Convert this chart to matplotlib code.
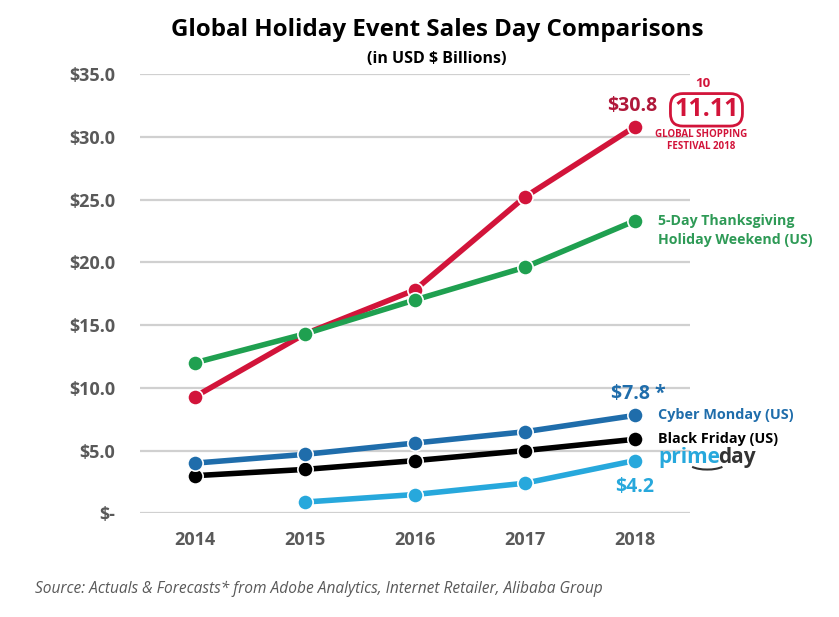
import matplotlib.pyplot as plt
from matplotlib.patches import Arc

years = [2014, 2015, 2016, 2017, 2018]
singles_day = [9.3, 14.3, 17.8, 25.2, 30.8]
thanksgiving = [12.0, 14.3, 17.0, 19.6, 23.3]
cyber_monday = [4.0, 4.7, 5.6, 6.5, 7.8]
black_friday = [3.0, 3.5, 4.2, 5.0, 5.9]
prime_years = [2015, 2016, 2017, 2018]
prime_day = [0.9, 1.5, 2.4, 4.2]
y_ticks = [0, 5, 10, 15, 20, 25, 30, 35]
y_labels = ["$-", "$5.0", "$10.0", "$15.0", "$20.0", "$25.0", "$30.0", "$35.0"]

plt.rcParams['font.family'] = ['Open Sans', 'DejaVu Sans']

RED = "#D2143A"
GREEN = "#1FA050"
CYBER = "#1F6DAB"
PRIME = "#27A8DC"
GREY = "#595959"

fig = plt.figure(figsize=(8.39, 6.17), dpi=100)
ax = fig.add_axes([0.167, 0.168, 0.655, 0.712])

series = [
    (years, singles_day, RED),
    (years, thanksgiving, GREEN),
    (years, black_friday, "black"),
    (years, cyber_monday, CYBER),
    (prime_years, prime_day, PRIME),
]
for xs, ys, c in series:
    ax.plot(xs, ys, color=c, lw=4, marker='o', markersize=11,
            markeredgecolor='white', markeredgewidth=1.2, solid_capstyle='round', zorder=3)

ax.set_xlim(2013.5, 2018.5)
ax.set_ylim(0, 35)
ax.set_yticks(y_ticks)
ax.set_yticklabels(y_labels)
ax.set_xticks(years)
ax.grid(axis='y', color='#d0d0d0', lw=1.6, zorder=0)
for s in ax.spines.values():
    s.set_visible(False)
ax.tick_params(length=0, labelsize=13, labelcolor=GREY, pad=18)
ax.tick_params(axis='x', pad=13)
for lab in ax.get_xticklabels() + ax.get_yticklabels():
    lab.set_fontweight('bold')

# value annotations
ax.annotate("$30.8", (2018, singles_day[-1]), xytext=(-2, 8), textcoords='offset points',
            ha='center', va='bottom', color="#B0183A", fontsize=14, fontweight='bold')
ax.annotate("$7.8 *", (2018, cyber_monday[-1]), xytext=(-17, 8), textcoords='offset points',
            ha='left', va='bottom', color=CYBER, fontsize=14, fontweight='bold')
ax.annotate("$4.2", (2018, prime_day[-1]), xytext=(0, -12), textcoords='offset points',
            ha='center', va='top', color=PRIME, fontsize=14, fontweight='bold')

# series labels
ax.annotate("5-Day Thanksgiving\nHoliday Weekend (US)", (2018, thanksgiving[-1]), xytext=(17, -7),
            textcoords='offset points', ha='left', va='center', color="#2E9A56",
            fontsize=10.2, fontweight='bold', linespacing=1.5)
ax.annotate("Cyber Monday (US)", (2018, cyber_monday[-1]), xytext=(17, 0),
            textcoords='offset points', ha='left', va='center', color=CYBER,
            fontsize=10.4, fontweight='bold')
ax.annotate("Black Friday (US)", (2018, black_friday[-1]), xytext=(17, 0),
            textcoords='offset points', ha='left', va='center', color='black',
            fontsize=10.4, fontweight='bold')
ax.annotate("prime", (2018, prime_day[-1]), xytext=(17, 2),
            textcoords='offset points', ha='left', va='center', color=PRIME,
            fontsize=15, fontweight='bold')
ax.annotate("day", (2018, prime_day[-1]), xytext=(60, 2),
            textcoords='offset points', ha='left', va='center', color="#333333",
            fontsize=15, fontweight='bold')
fig.patches.append(Arc((0.843, 0.250), 0.045, 0.022, theta1=200, theta2=340,
                       transform=fig.transFigure, color="#333333", lw=1.5))

# 11.11 logo as text
fig.text(0.842, 0.822, "11.11", color=RED, fontsize=18, fontweight='bold', ha='center', va='center',
         bbox=dict(boxstyle='round,pad=0.15,rounding_size=0.5', fc='none', ec=RED, lw=2))
fig.text(0.838, 0.864, "10", color=RED, fontsize=9.5, fontweight='bold', ha='center', va='center',
         bbox=dict(boxstyle='square,pad=0.05', fc='white', ec='none'))
fig.text(0.836, 0.772, "GLOBAL SHOPPING\nFESTIVAL 2018", color=RED, fontsize=7, fontweight='bold',
         ha='center', va='center', linespacing=1.1)

fig.text(0.521, 0.952, "Global Holiday Event Sales Day Comparisons", ha='center', va='center',
         fontsize=17.4, fontweight='bold')
fig.text(0.521, 0.904, "(in USD $ Billions)", ha='center', va='center',
         fontsize=11.5, fontweight='bold')
fig.text(0.042, 0.046, "Source: Actuals & Forecasts* from Adobe Analytics, Internet Retailer, Alibaba Group",
         ha='left', va='center', fontsize=11.2, style='italic', color=GREY)

fig.savefig("out.png", dpi=100)
